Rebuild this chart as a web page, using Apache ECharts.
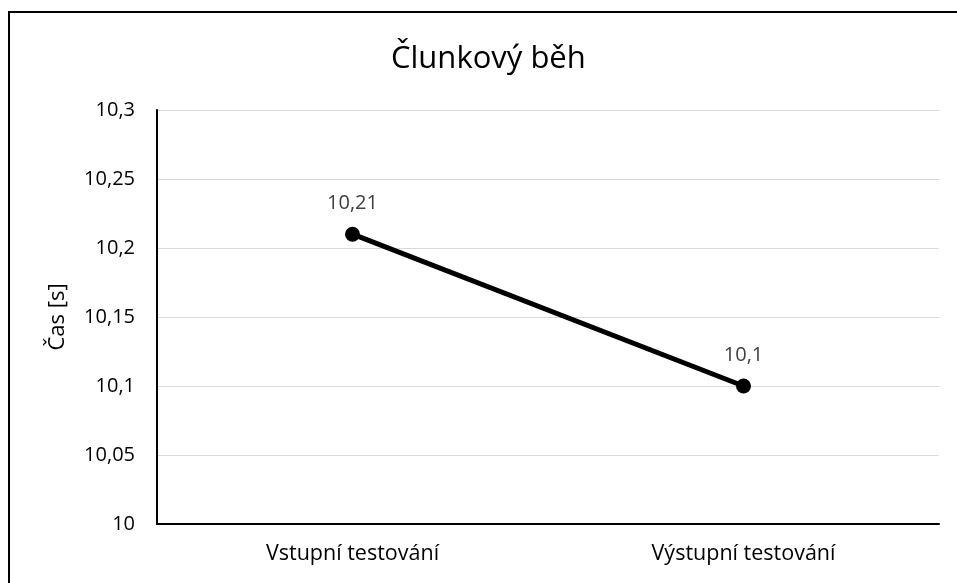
<html>
  <head>
    <meta charset="UTF-8" />
    <script src="https://cdn.jsdelivr.net/npm/echarts/dist/echarts.min.js"></script>
    <title>Člunkový běh</title>
    <style>
      body { margin: 0; background: #fff; }
      #main { position: absolute; left: 0; top: 0; width: 957px; height: 583px; }
      #frame {
        position: absolute; left: 8px; top: 11px; width: 960px; height: 600px;
        border-left: 2px solid #000; border-top: 2px solid #000; pointer-events: none;
      }
    </style>
  </head>
  <body>
    <div id="main"></div>
    <div id="frame"></div>
    <script>
      // data
      const categories = ['Vstupní testování', 'Výstupní testování'];
      const times = [10.21, 10.1];

      const comma = (v) => String(v).replace('.', ',');

      var chart = echarts.init(document.getElementById('main'));
      var option = {
        animation: false,
        textStyle: { fontFamily: 'Open Sans' },
        title: {
          text: 'Člunkový běh',
          left: 386,
          top: 39,
          textStyle: { fontFamily: 'Open Sans', fontSize: 31, fontWeight: 'normal', color: '#000' }
        },
        grid: { left: 157, right: 18, top: 110, bottom: 59 },
        xAxis: {
          type: 'category',
          data: categories,
          boundaryGap: true,
          axisLine: { lineStyle: { color: '#000', width: 2 } },
          axisTick: { show: false },
          axisLabel: { color: '#000', fontSize: 21.5, margin: 19 }
        },
        yAxis: {
          type: 'value',
          min: 10,
          max: 10.3,
          interval: 0.05,
          name: 'Čas [s]',
          nameLocation: 'middle',
          nameGap: 88,
          nameTextStyle: { color: '#000', fontSize: 22 },
          axisLine: { show: true, lineStyle: { color: '#000', width: 2 } },
          axisTick: { show: false },
          axisLabel: { color: '#000', fontSize: 20, margin: 22, formatter: comma },
          splitLine: { lineStyle: { color: '#d9d9d9', width: 1 } }
        },
        series: [
          {
            type: 'line',
            data: times,
            symbol: 'circle',
            symbolSize: 15,
            lineStyle: { color: '#000', width: 5 },
            itemStyle: { color: '#000' },
            label: {
              show: true,
              position: 'top',
              distance: 13,
              color: '#404040',
              fontSize: 20,
              formatter: (p) => comma(p.value)
            }
          }
        ]
      };
      chart.setOption(option);
    </script>
  </body>
</html>
